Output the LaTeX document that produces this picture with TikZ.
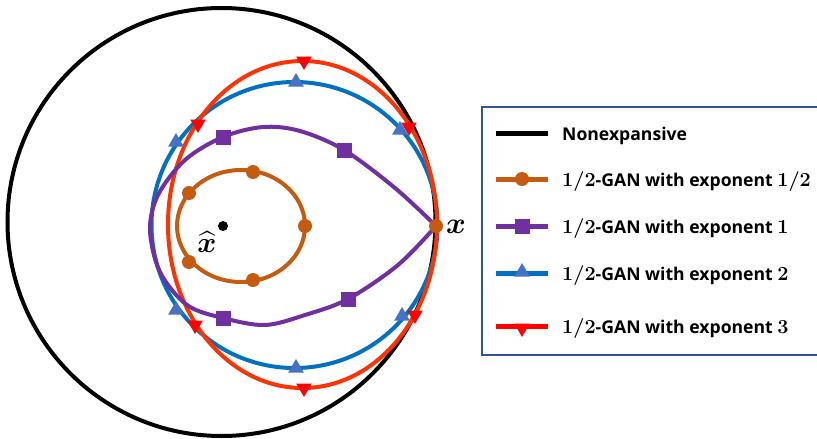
\documentclass[tikz,border=0pt]{standalone}
\usepackage{amsmath,bm}
\usepackage{fontspec}
\newfontfamily\lgfont{Open Sans}
\usetikzlibrary{shapes.geometric}
\definecolor{corange}{HTML}{C55A11}
\definecolor{cpurple}{HTML}{7030A0}
\definecolor{cblue}{HTML}{0070C0}
\definecolor{cbluem}{HTML}{4472C4}
\definecolor{credl}{HTML}{FF3300}
\definecolor{credm}{HTML}{FF0000}
\definecolor{cbox}{HTML}{2F5597}
\newcommand{\mdig}[1]{\scalebox{1.15}{\boldmath$#1$}}
\begin{document}
\begin{tikzpicture}[x=1pt,y=-1pt,
  omark/.style={circle,fill=corange,inner sep=0pt,minimum size=14pt},
  pmark/.style={rectangle,fill=cpurple,inner sep=0pt,minimum size=15pt},
  bmark/.style={regular polygon,regular polygon sides=3,fill=cbluem,inner sep=0pt,minimum size=18pt},
  rmark/.style={regular polygon,regular polygon sides=3,shape border rotate=180,fill=credm,inner sep=0pt,minimum size=18pt},
  curve/.style={line width=4pt},
  legline/.style={line width=5pt},
  legtext/.style={anchor=base west,font=\lgfont\bfseries\fontsize{17.6}{20}\selectfont,inner sep=0pt}]
\useasboundingbox (0,0) rectangle (817,439);
% nonexpansive circle
\draw[curve] (221.5,222) circle[radius=214pt];
% exponent 2
\draw[cblue,curve] (294.5,225) circle[radius=143pt];
% exponent 3
\draw[credl,curve] (302.5,224.5) ellipse[x radius=134.5pt,y radius=163.5pt];
% exponent 1
\draw[cpurple,curve,line join=round] plot[smooth,tension=0.55] coordinates {
  (436,226) (395,188) (344,150) (300,131) (263,127) (223,137) (185,160) (158,195)
  (150,230) (160,272) (187,305) (223,318) (265,325) (305,315) (348,299) (398,265) (436,226)};
% exponent 1/2
\draw[corange,curve] (241,226) ellipse[x radius=64pt,y radius=56pt];
% markers
\foreach \p [count=\i] in {(296,82),(296,368),(176,142),(400,130),(176,310),(402,316)}
  \node[bmark] (b\i) at \p {};
\foreach \p [count=\i] in {(304,61),(304,388),(198,124),(409,127),(195,325),(415,315)}
  \node[rmark] (r\i) at \p {};
\foreach \p [count=\i] in {(223,137),(344,150),(223,318),(348,299)}
  \node[pmark] (p\i) at \p {};
\foreach \p [count=\i] in {(253,172),(189,193),(305,226),(189,262),(253,280),(436,226)}
  \node[omark] (o\i) at \p {};
\node[circle,fill=black,inner sep=0pt,minimum size=10pt] (xhatdot) at (223,226) {};
\node[inner sep=0pt] (xlab) at (456,227) {\scalebox{3}{$\boldsymbol{x}$}};
\node[inner sep=0pt] (xhatlab) at (207,242) {\scalebox{2.9}{$\widehat{\boldsymbol{x}}$}};
% legend
\draw[cbox,line width=1.5pt] (817,107) -- (482,107) -- (482,355) -- (817,355);
\draw[legline,black] (496,133) -- (548,133);
\draw[legline,corange] (496,179) -- (548,179);
\node[omark] (lo) at (522,179) {};
\draw[legline,cpurple] (496,226) -- (548,226);
\node[pmark] (lp) at (522,226) {};
\draw[legline,cblue] (496,273) -- (548,273);
\node[bmark] (lb) at (522,272) {};
\draw[legline,credm] (496,326) -- (548,326);
\node[rmark] (lr) at (522,328) {};
\node[legtext] (t1) at (562,140) {Nonexpansive};
\node[legtext] (t2) at (562,186) {\mdig{1/2}-GAN with exponent \mdig{1/2}};
\node[legtext] (t3) at (562,233) {\mdig{1/2}-GAN with exponent \mdig{1}};
\node[legtext] (t4) at (562,280) {\mdig{1/2}-GAN with exponent \mdig{2}};
\node[legtext] (t5) at (562,333) {\mdig{1/2}-GAN with exponent \mdig{3}};
\end{tikzpicture}
\end{document}
